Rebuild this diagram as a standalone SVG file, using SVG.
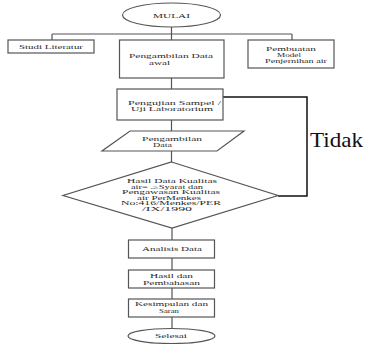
<svg xmlns="http://www.w3.org/2000/svg" width="368" height="344" viewBox="0 0 368 344">
<style>
.n{fill:#fff;stroke:#555;stroke-width:1.2}
.c{fill:none;stroke:#555;stroke-width:1.2}
.f{fill:none;stroke:#111;stroke-width:1.5}
.t{font-family:"Liberation Serif","Times New Roman",serif;font-size:6.6px;fill:#2a2a2a}
.s{font-size:5.8px}
.b{font-family:"Liberation Serif","Times New Roman",serif;font-size:22px;fill:#111}
</style>
<rect width="368" height="344" fill="#fff"/>
<g id="connectors">
<path class="c" d="M171.5 27V34M52 34H292M52 34V40M171.5 34V40M292 34V40"/>
<path class="c" d="M171.5 78V89M171.5 120V131M171.5 151V162M172 228V240M172 258V270M172 288V299M172 317V328"/>
<path class="f" d="M278 196H307V97H223"/>
</g>
<g id="mulai">
<ellipse class="n" cx="171.5" cy="15" rx="49" ry="12"/>
<text class="t" x="153" y="17.5" textLength="37" lengthAdjust="spacingAndGlyphs">MULAI</text>
</g>
<g id="studi">
<rect class="n" x="8" y="40" width="86" height="13"/>
<text class="t" x="19" y="49.2" textLength="64" lengthAdjust="spacingAndGlyphs">Studi Literatur</text>
</g>
<g id="pengambilan-awal">
<rect class="n" x="119.5" y="40" width="104.5" height="38"/>
<text class="t" x="129" y="58.2" textLength="84" lengthAdjust="spacingAndGlyphs">Pengambilan Data</text>
<text class="t" x="149" y="65.2" textLength="21" lengthAdjust="spacingAndGlyphs">awal</text>
</g>
<g id="pembuatan">
<rect class="n" x="248" y="40" width="86" height="28"/>
<text class="t s" x="266" y="51" textLength="50" lengthAdjust="spacingAndGlyphs">Pembuatan</text>
<text class="t s" x="277" y="56.8" textLength="24" lengthAdjust="spacingAndGlyphs">Model</text>
<text class="t s" x="265" y="63" textLength="62" lengthAdjust="spacingAndGlyphs">Penjernihan air</text>
</g>
<g id="pengujian">
<rect class="n" x="117" y="89" width="106" height="31"/>
<text class="t s" x="128" y="104.8" textLength="93" lengthAdjust="spacingAndGlyphs">Pengujian Sampel /</text>
<text class="t s" x="131" y="111" textLength="82" lengthAdjust="spacingAndGlyphs">Uji Laboratorium</text>
</g>
<g id="pengambilan-data">
<polygon class="n" points="130,131 244,131 217,151 102,151"/>
<text class="t s" x="142" y="140.8" textLength="60" lengthAdjust="spacingAndGlyphs">Pengambilan</text>
<text class="t s" x="153" y="147" textLength="19" lengthAdjust="spacingAndGlyphs">Data</text>
</g>
<g id="keputusan">
<polygon class="n" points="171.5,162 278,195.5 172,228 63,195.5"/>
<g class="t" style="font-size:5.3px">
<text x="127" y="183" textLength="90" lengthAdjust="spacingAndGlyphs">Hasil Data Kualitas</text>
<text x="131" y="188.6" textLength="72" lengthAdjust="spacingAndGlyphs">air= .≥Syarat dan</text>
<text x="122" y="194.2" textLength="98" lengthAdjust="spacingAndGlyphs">Pengawasan Kualitas</text>
<text x="137" y="199.8" textLength="64" lengthAdjust="spacingAndGlyphs">air PerMenkes</text>
<text x="121" y="205.4" textLength="100" lengthAdjust="spacingAndGlyphs">No:416/Menkes/PER</text>
<text x="142" y="211" textLength="50" lengthAdjust="spacingAndGlyphs">/IX/1990</text>
</g>
</g>
<g id="tidak">
<text class="b" x="310" y="146.5" textLength="53" lengthAdjust="spacingAndGlyphs">Tidak</text>
</g>
<g id="analisis">
<rect class="n" x="128.5" y="240" width="86" height="18"/>
<text class="t" x="142" y="251.2" textLength="60" lengthAdjust="spacingAndGlyphs">Analisis Data</text>
</g>
<g id="hasil">
<rect class="n" x="128.5" y="270" width="86" height="18"/>
<text class="t s" x="150" y="278" textLength="43" lengthAdjust="spacingAndGlyphs">Hasil dan</text>
<text class="t s" x="143" y="285.2" textLength="57" lengthAdjust="spacingAndGlyphs">Pembahasan</text>
</g>
<g id="kesimpulan">
<rect class="n" x="128.5" y="299" width="86" height="18"/>
<text class="t s" x="135" y="305.6" textLength="73" lengthAdjust="spacingAndGlyphs">Kesimpulan dan</text>
<text class="t s" x="159" y="313.2" textLength="20" lengthAdjust="spacingAndGlyphs">Saran</text>
</g>
<g id="selesai">
<ellipse class="n" cx="171.5" cy="336" rx="43.5" ry="7.5"/>
<text class="t" x="155" y="338.2" textLength="32" lengthAdjust="spacingAndGlyphs">Selesai</text>
</g>
</svg>
